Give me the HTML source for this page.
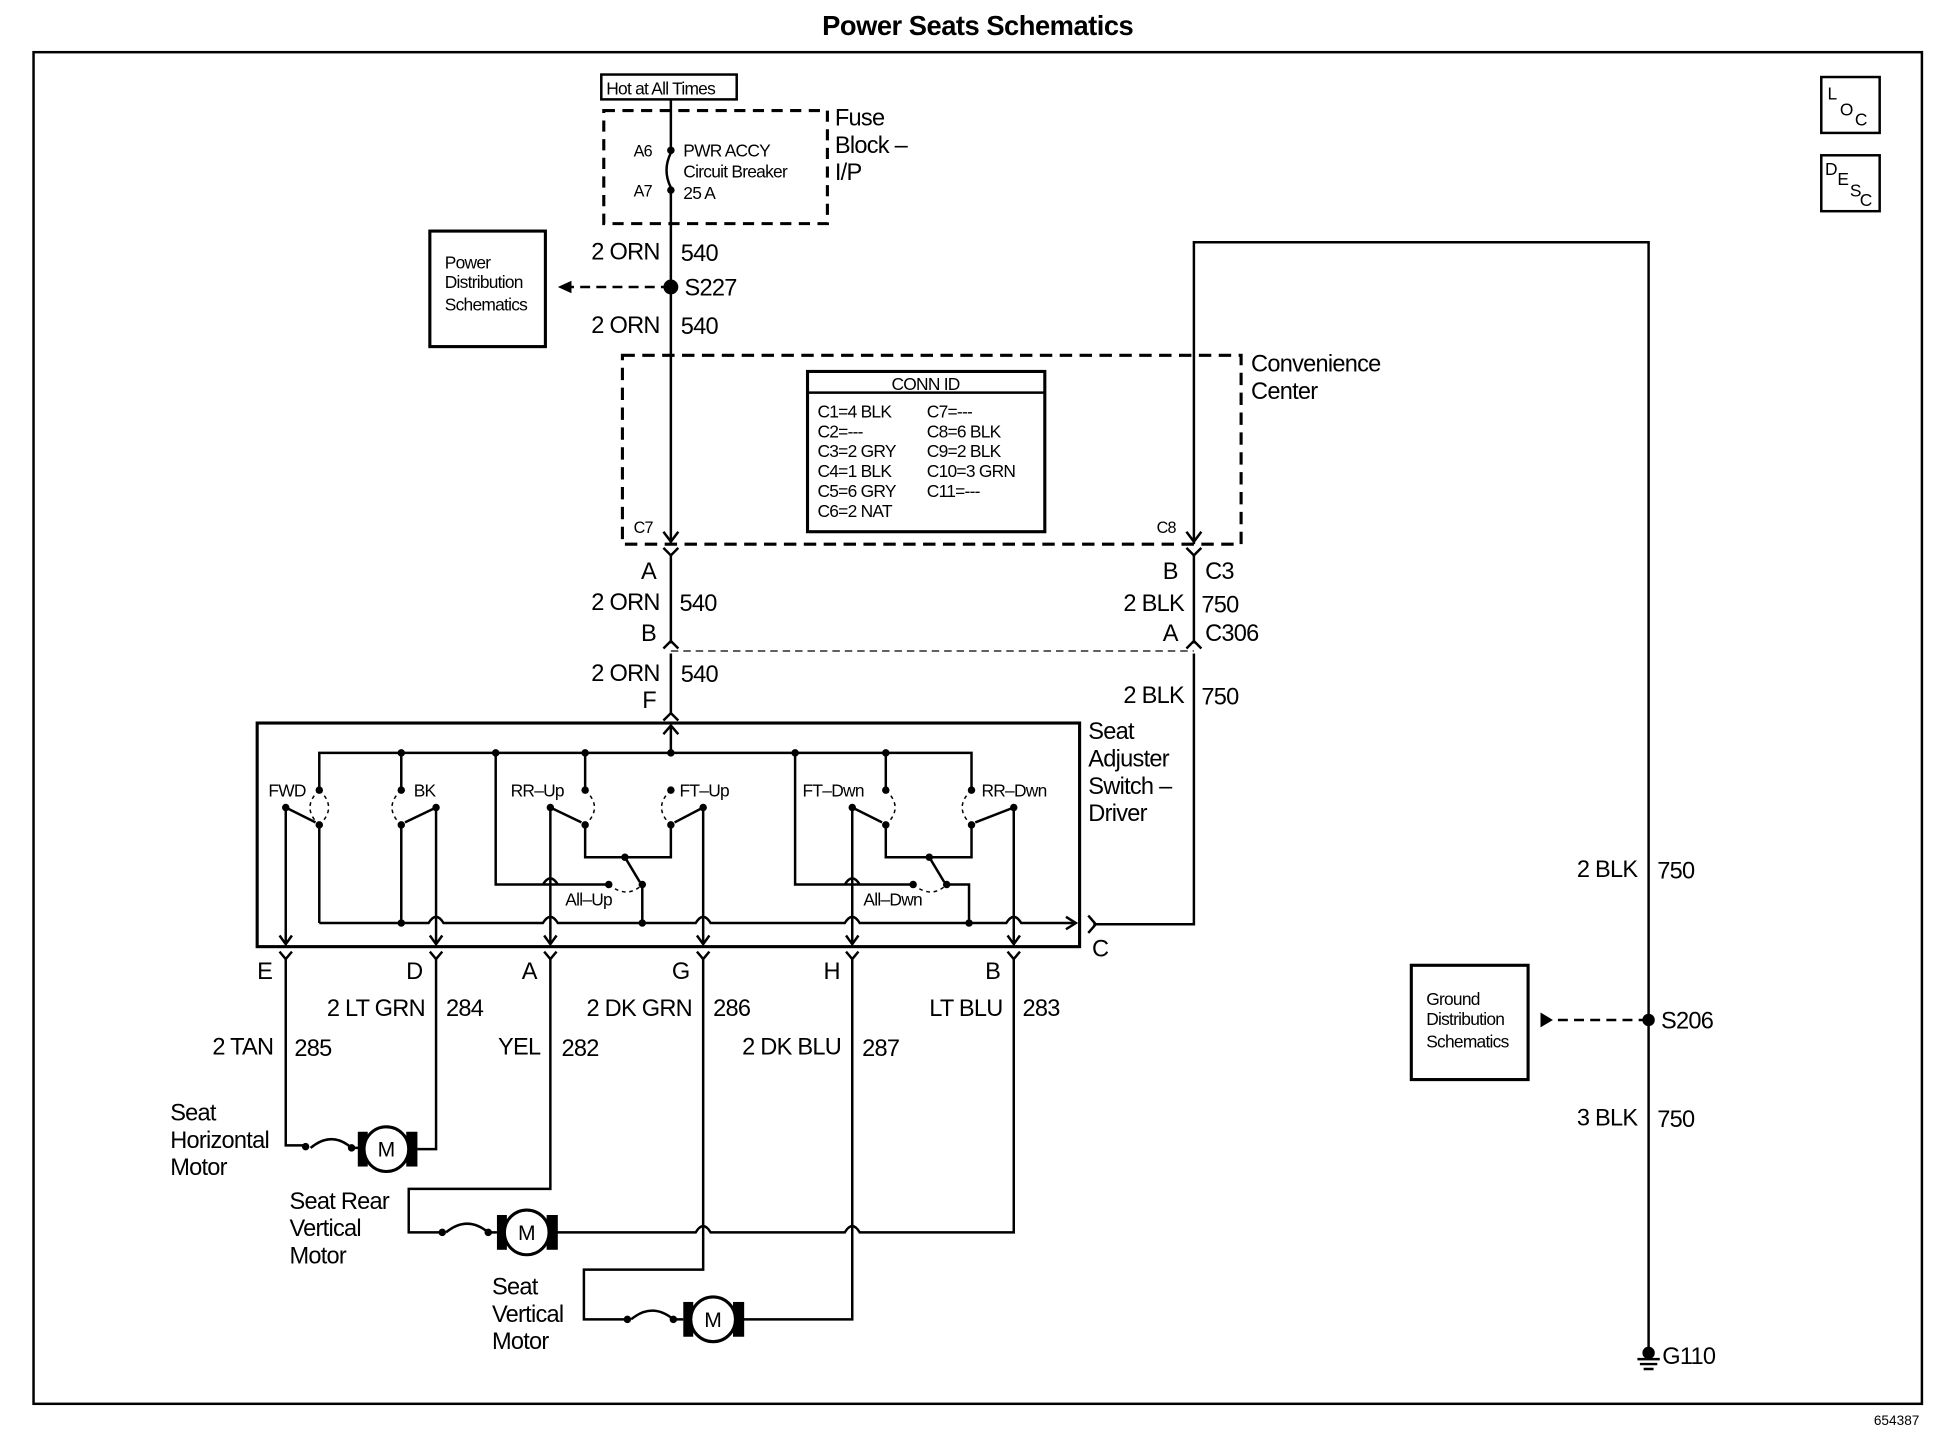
<!DOCTYPE html>
<html><head><meta charset="utf-8"><style>
html,body{margin:0;padding:0;background:#fff}
svg{display:block}
text{font-family:"Liberation Sans",Arial,sans-serif;fill:#000}
.w{font-size:19px;letter-spacing:-0.6px}
.s{font-size:13px;letter-spacing:-0.6px}
.m{font-size:14px;letter-spacing:-0.6px}
</style></head><body>
<svg width="1948" height="1456" viewBox="0 0 1568 1172" preserveAspectRatio="none" xmlns="http://www.w3.org/2000/svg">
<g fill="none" stroke="#000" stroke-width="2">
<rect x="27" y="42" width="1520" height="1088"/>
<rect x="1466" y="62" width="47" height="45"/>
<rect x="1466" y="125" width="47" height="45"/>
<rect x="484" y="60" width="109" height="20"/>
<rect x="486" y="89" width="180" height="91" stroke-dasharray="9,6" stroke-width="2.5"/>
<rect x="346" y="186" width="93" height="93" stroke-width="2.5"/>
<rect x="501" y="286" width="498" height="152" stroke-dasharray="10,6" stroke-width="2.5"/>
<rect x="650" y="299" width="191" height="129" stroke-width="2.5"/>
<line x1="650" y1="316" x2="841" y2="316"/>
<rect x="1136" y="777" width="94" height="92" stroke-width="2.5"/>
<path d="M540 80 V121 M540 153 V438"/>
<path d="M540 123 Q533 137 540 151"/>
<path d="M540 231 H458" stroke-dasharray="8,5"/>
<path d="M540 447 V518 M540 526 V574 M540 584 V606"/>
<path d="M534 428 L540 436 L546 428 M534 441 L540 447 L546 441 M534 522 L540 516 L546 522 M534 580 L540 574 L546 580 M534 591 L540 584 L546 591"/>
<line x1="540" y1="524" x2="961" y2="524" stroke-dasharray="6,4" stroke-width="1"/>
<path d="M961 438 V195 H1327 V1090"/>
<path d="M961 447 V518 M961 526 V744 H880"/>
<path d="M955 428 L961 436 L967 428 M955 441 L961 447 L967 441 M955 522 L961 516 L967 522"/>
<path d="M1327 821 H1250" stroke-dasharray="8,5"/>
<rect x="207" y="582" width="662" height="180" stroke-width="2.5"/>
<path d="M257 636 V606 H782 V636 M323 606 V636 M471 606 V636"/>
<path d="M230 650 V760 M257 664 V743"/>
<path d="M230 650 L254 662"/>
<path d="M323 664 V743 M351 650 V760"/>
<path d="M351 650 L326 662"/>
<path d="M443 650 L468 662 M566 650 L543 662"/>
<path d="M471 664 V690 H540 V664 M566 650 V760 M443 650 V760"/>
<path d="M503 690 L515 710 M517 712 V743"/>
<path d="M490 712 H399 V606"/>
<path d="M686 650 L710 662 M816 650 L785 662"/>
<path d="M713 636 V606 M713 664 V690 H782 V664 M686 650 V760 M816 650 V760"/>
<path d="M748 690 L760 710 M762 712 H780 V743"/>
<path d="M735 712 H640 V606"/>
<path d="M257 743 H345 Q351 733 357 743 H437 Q443 733 449 743 H560 Q566 733 572 743 H680 Q686 733 692 743 H810 Q816 733 822 743 H866"/>
<path d="M858 738 L866 743 L858 748"/>
<path d="M437 712 Q443 702 449 712 M680 712 Q686 702 692 712"/>
<path d="M876 737 L882 744 L876 751"/>
<g stroke-width="1.2" stroke-dasharray="3,3">
<path d="M257 636 Q272 650 257 664 M257 636 Q242 650 257 664"/>
<path d="M323 636 Q308 650 323 664"/>
<path d="M471 636 Q486 650 471 664"/>
<path d="M540 636 Q525 650 540 664"/>
<path d="M713 636 Q728 650 713 664"/>
<path d="M782 636 Q767 650 782 664"/>
<path d="M490 712 Q505 724 517 712"/>
<path d="M735 712 Q750 724 762 712"/>
</g>
<path d="M225 753 L230 760 L235 753 M346 753 L351 760 L356 753 M438 753 L443 760 L448 753 M561 753 L566 760 L571 753 M681 753 L686 760 L691 753 M811 753 L816 760 L821 753"/>
<path d="M225 766 L230 772 L235 766 M346 766 L351 772 L356 766 M438 766 L443 772 L448 766 M561 766 L566 772 L571 766 M681 766 L686 772 L691 766 M811 766 L816 772 L821 766"/>
<path d="M230 772 V922 H246"/>
<path d="M351 772 V925 H336"/>
<path d="M443 772 V957 H329 V992 H356"/>
<path d="M446 992 H560 Q566 982 572 992 H680 Q686 982 692 992 H816 V772"/>
<path d="M566 772 V1022 H470 V1062 H503"/>
<path d="M596 1062 H686 V772"/>
<path d="M250 924 Q267 910 283 924 M359 992 Q376 978 393 992 M508 1062 Q525 1048 542 1062"/>
<path d="M283 924 H290 M393 992 H400 M542 1062 H550"/>
<path d="M1318 1094 H1336 M1320 1098 H1334 M1323 1102 H1331"/>
</g>
<g fill="#000">
<circle cx="540" cy="121" r="3"/><circle cx="540" cy="153" r="3"/>
<circle cx="540" cy="231" r="6"/><circle cx="1327" cy="821" r="5"/>
<circle cx="1327" cy="1089" r="5"/>
<polygon points="449,231 460,226 460,236"/>
<polygon points="1250,821 1240,815 1240,827"/>
<circle cx="257" cy="636" r="3"/><circle cx="257" cy="664" r="3"/><circle cx="230" cy="650" r="3"/>
<circle cx="323" cy="606" r="3"/><circle cx="323" cy="636" r="3"/><circle cx="323" cy="664" r="3"/><circle cx="351" cy="650" r="3"/>
<circle cx="399" cy="606" r="3"/><circle cx="471" cy="606" r="3"/><circle cx="540" cy="606" r="3"/>
<circle cx="471" cy="636" r="3"/><circle cx="471" cy="664" r="3"/><circle cx="443" cy="650" r="3"/>
<circle cx="540" cy="636" r="3"/><circle cx="540" cy="664" r="3"/><circle cx="566" cy="650" r="3"/>
<circle cx="503" cy="690" r="3"/><circle cx="490" cy="712" r="3"/><circle cx="517" cy="712" r="3"/>
<circle cx="640" cy="606" r="3"/><circle cx="713" cy="606" r="3"/>
<circle cx="713" cy="636" r="3"/><circle cx="713" cy="664" r="3"/><circle cx="686" cy="650" r="3"/>
<circle cx="782" cy="636" r="3"/><circle cx="782" cy="664" r="3"/><circle cx="816" cy="650" r="3"/>
<circle cx="748" cy="690" r="3"/><circle cx="735" cy="712" r="3"/><circle cx="762" cy="712" r="3"/>
<circle cx="323" cy="743" r="3"/><circle cx="517" cy="743" r="3"/><circle cx="780" cy="743" r="3"/>
<circle cx="246" cy="923" r="3"/><circle cx="283" cy="924" r="3"/>
<circle cx="356" cy="992" r="3"/><circle cx="393" cy="992" r="3"/>
<circle cx="505" cy="1062" r="3"/><circle cx="542" cy="1062" r="3"/>
<rect x="288" y="911" width="8" height="28"/><rect x="327" y="911" width="9" height="28"/>
<rect x="400" y="978" width="8" height="28"/><rect x="440" y="978" width="9" height="28"/>
<rect x="550" y="1048" width="8" height="28"/><rect x="590" y="1048" width="9" height="28"/>
</g>
<g fill="#fff" stroke="#000" stroke-width="2.5">
<circle cx="311" cy="925" r="18"/><circle cx="424" cy="992" r="18"/><circle cx="574" cy="1062" r="18"/>
</g>
<text x="787" y="28" text-anchor="middle" style="font-size:22px;font-weight:bold;letter-spacing:-0.4px">Power Seats Schematics</text>
<text x="1545" y="1147" text-anchor="end" style="font-size:11px">654387</text>
<text x="1471" y="80" class="m">L</text><text x="1481" y="93" class="m">O</text><text x="1493" y="101" class="m">C</text>
<text x="1469" y="141" class="m">D</text><text x="1479" y="149" class="m">E</text><text x="1489" y="158" class="m">S</text><text x="1497" y="166" class="m">C</text>
<text x="488" y="76" class="m">Hot at All Times</text>
<text x="510" y="126" class="s">A6</text><text x="510" y="158" class="s">A7</text>
<text x="550" y="126" class="m">PWR ACCY</text><text x="550" y="143" class="m">Circuit Breaker</text><text x="550" y="160" class="m">25 A</text>
<text x="672" y="101" class="w">Fuse</text><text x="672" y="123" class="w">Block –</text><text x="672" y="145" class="w">I/P</text>
<text x="358" y="216" class="m">Power</text><text x="358" y="232" class="m">Distribution</text><text x="358" y="250" class="m">Schematics</text>
<text x="531" y="209" class="w" text-anchor="end">2 ORN</text><text x="548" y="210" class="w">540</text>
<text x="551" y="238" class="w">S227</text>
<text x="531" y="268" class="w" text-anchor="end">2 ORN</text><text x="548" y="269" class="w">540</text>
<text x="1007" y="299" class="w">Convenience</text><text x="1007" y="321" class="w">Center</text>
<text x="745" y="314" class="m" text-anchor="middle">CONN ID</text>
<g class="m">
<text x="658" y="336">C1=4 BLK</text><text x="658" y="352">C2=---</text><text x="658" y="368">C3=2 GRY</text><text x="658" y="384">C4=1 BLK</text><text x="658" y="400">C5=6 GRY</text><text x="658" y="416">C6=2 NAT</text>
<text x="746" y="336">C7=---</text><text x="746" y="352">C8=6 BLK</text><text x="746" y="368">C9=2 BLK</text><text x="746" y="384">C10=3 GRN</text><text x="746" y="400">C11=---</text>
</g>
<text x="510" y="429" class="s">C7</text><text x="931" y="429" class="s">C8</text>
<text x="528" y="466" class="w" text-anchor="end">A</text><text x="948" y="466" class="w" text-anchor="end">B</text><text x="970" y="466" class="w">C3</text>
<text x="531" y="491" class="w" text-anchor="end">2 ORN</text><text x="547" y="492" class="w">540</text>
<text x="953" y="492" class="w" text-anchor="end">2 BLK</text><text x="967" y="493" class="w">750</text>
<text x="528" y="516" class="w" text-anchor="end">B</text><text x="948" y="516" class="w" text-anchor="end">A</text><text x="970" y="516" class="w">C306</text>
<text x="531" y="548" class="w" text-anchor="end">2 ORN</text><text x="548" y="549" class="w">540</text>
<text x="528" y="570" class="w" text-anchor="end">F</text>
<text x="953" y="566" class="w" text-anchor="end">2 BLK</text><text x="967" y="567" class="w">750</text>
<text x="876" y="595" class="w">Seat</text><text x="876" y="617" class="w">Adjuster</text><text x="876" y="639" class="w">Switch –</text><text x="876" y="661" class="w">Driver</text>
<g class="m">
<text x="216" y="641">FWD</text><text x="333" y="641">BK</text><text x="411" y="641">RR–Up</text><text x="547" y="641">FT–Up</text>
<text x="646" y="641">FT–Dwn</text><text x="790" y="641">RR–Dwn</text><text x="455" y="729">All–Up</text><text x="695" y="729">All–Dwn</text>
</g>
<text x="219" y="788" class="w" text-anchor="end">E</text><text x="340" y="788" class="w" text-anchor="end">D</text><text x="432" y="788" class="w" text-anchor="end">A</text>
<text x="555" y="788" class="w" text-anchor="end">G</text><text x="676" y="788" class="w" text-anchor="end">H</text><text x="805" y="788" class="w" text-anchor="end">B</text>
<text x="879" y="770" class="w">C</text>
<text x="342" y="818" class="w" text-anchor="end">2 LT GRN</text><text x="359" y="818" class="w">284</text>
<text x="557" y="818" class="w" text-anchor="end">2 DK GRN</text><text x="574" y="818" class="w">286</text>
<text x="807" y="818" class="w" text-anchor="end">LT BLU</text><text x="823" y="818" class="w">283</text>
<text x="220" y="849" class="w" text-anchor="end">2 TAN</text><text x="237" y="850" class="w">285</text>
<text x="435" y="849" class="w" text-anchor="end">YEL</text><text x="452" y="850" class="w">282</text>
<text x="677" y="849" class="w" text-anchor="end">2 DK BLU</text><text x="694" y="850" class="w">287</text>
<text x="137" y="902" class="w">Seat</text><text x="137" y="924" class="w">Horizontal</text><text x="137" y="946" class="w">Motor</text>
<text x="233" y="973" class="w">Seat Rear</text><text x="233" y="995" class="w">Vertical</text><text x="233" y="1017" class="w">Motor</text>
<text x="396" y="1042" class="w">Seat</text><text x="396" y="1064" class="w">Vertical</text><text x="396" y="1086" class="w">Motor</text>
<text x="311" y="931" text-anchor="middle" style="font-size:17px">M</text>
<text x="424" y="998" text-anchor="middle" style="font-size:17px">M</text>
<text x="574" y="1068" text-anchor="middle" style="font-size:17px">M</text>
<text x="1318" y="706" class="w" text-anchor="end">2 BLK</text><text x="1334" y="707" class="w">750</text>
<text x="1337" y="828" class="w">S206</text>
<text x="1318" y="906" class="w" text-anchor="end">3 BLK</text><text x="1334" y="907" class="w">750</text>
<text x="1338" y="1098" class="w">G110</text>
<text x="1148" y="809" class="m">Ground</text><text x="1148" y="825" class="m">Distribution</text><text x="1148" y="843" class="m">Schematics</text>
</svg>
</body></html>
